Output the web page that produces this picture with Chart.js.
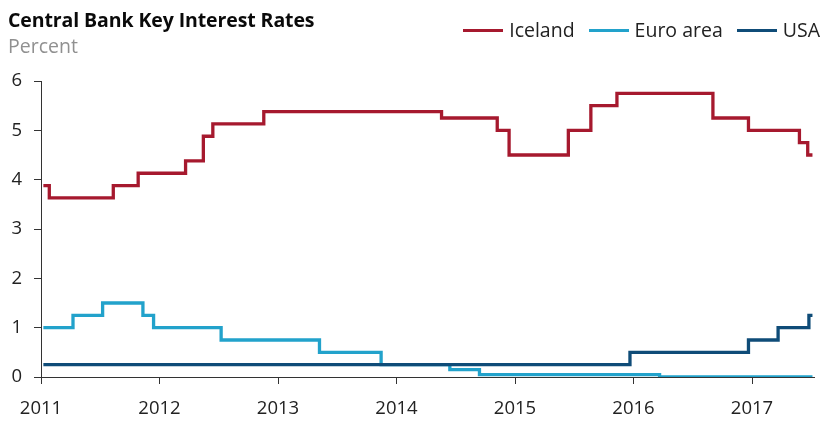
<!DOCTYPE html>
<html>
<head>
<meta charset="utf-8">
<script src="https://cdn.jsdelivr.net/npm/chart.js@4.4.0/dist/chart.umd.min.js"></script>
<style>
  html, body { margin: 0; padding: 0; background: #ffffff; }
  #wrap { position: relative; width: 822px; height: 422px; overflow: hidden; }
  canvas { position: absolute; left: 0; top: 0; }
  #title { position: absolute; left: 8px; top: 6px; font: bold 19.5px "Open Sans", sans-serif; color: #0a0a0a; white-space: nowrap; line-height: normal; letter-spacing: -0.1px; }
  #sub { position: absolute; left: 8px; top: 32px; font: 19.5px "Open Sans", sans-serif; color: #909090; white-space: nowrap; line-height: normal; }
  #legend { position: absolute; right: 2px; top: 16px; display: flex; align-items: center; font: 19.5px "Open Sans", sans-serif; color: #222; white-space: nowrap; line-height: normal; }
  .item { display: flex; align-items: center; margin-left: 14px; }
  .sw { width: 40px; height: 3px; margin-right: 6px; margin-top: 1px; }
</style>
</head>
<body>
<div id="wrap">
  <canvas id="c" width="822" height="422"></canvas>
  <div id="title">Central Bank Key Interest Rates</div>
  <div id="sub">Percent</div>
  <div id="legend"></div>
</div>
<script>
// ---- data (decimal year of each rate change, rate in percent) ----
const seriesNames = ["Iceland", "Euro area", "USA"];
const seriesColors = ["#a6192e", "#22a2cb", "#0f4c78"];

const icelandDates = [2011.02, 2011.07, 2011.61, 2011.82, 2012.22, 2012.37, 2012.45, 2012.88, 2014.38, 2014.85, 2014.95, 2015.45, 2015.64, 2015.86, 2016.67, 2016.97, 2017.40, 2017.47, 2017.51];
const icelandRates = [3.88, 3.63, 3.88, 4.13, 4.38, 4.88, 5.13, 5.38, 5.25, 5.00, 4.50, 5.00, 5.50, 5.75, 5.25, 5.00, 4.75, 4.50, 4.50];

const euroDates = [2011.02, 2011.27, 2011.52, 2011.86, 2011.95, 2012.52, 2013.35, 2013.87, 2014.45, 2014.70, 2016.22, 2017.51];
const euroRates = [1.00, 1.25, 1.50, 1.25, 1.00, 0.75, 0.50, 0.25, 0.15, 0.05, 0.00, 0.00];

const usaDates = [2011.02, 2015.97, 2016.97, 2017.22, 2017.48, 2017.51];
const usaRates = [0.25, 0.50, 0.75, 1.00, 1.25, 1.25];

const xTickYears = [2011, 2012, 2013, 2014, 2015, 2016, 2017];
const yTickValues = [0, 1, 2, 3, 4, 5, 6];

// ---- build ----
function pts(d, v) { return d.map((x, i) => ({ x: x, y: v[i] })); }
const seriesData = [pts(icelandDates, icelandRates), pts(euroDates, euroRates), pts(usaDates, usaRates)];

const legend = document.getElementById('legend');
seriesNames.forEach((n, i) => {
  const it = document.createElement('div'); it.className = 'item';
  const sw = document.createElement('div'); sw.className = 'sw'; sw.style.background = seriesColors[i];
  const tx = document.createElement('span'); tx.textContent = n;
  it.appendChild(sw); it.appendChild(tx); legend.appendChild(it);
});

const tickFont = { family: "'Open Sans', sans-serif", size: 18.5 };
const axisColor = '#333333';

new Chart(document.getElementById('c'), {
  type: 'line',
  data: {
    datasets: seriesNames.map((n, i) => ({
      label: n,
      data: seriesData[i],
      borderColor: seriesColors[i],
      backgroundColor: seriesColors[i],
      borderWidth: 3.3,
      pointRadius: 0,
      stepped: 'before',
      fill: false,
      order: 3 - i
    }))
  },
  options: {
    responsive: false,
    devicePixelRatio: 1,
    animation: false,
    layout: { padding: { top: 81, right: 8, left: 0, bottom: 0 } },
    plugins: { legend: { display: false }, tooltip: { enabled: false } },
    scales: {
      x: {
        type: 'linear',
        min: 2011,
        max: 2017.523,
        afterBuildTicks: s => { s.ticks = xTickYears.map(v => ({ value: v })); },
        afterFit: s => { s.height = 45; },
        ticks: { font: tickFont, color: '#222', padding: 14, maxRotation: 0, autoSkip: false, callback: v => String(v) },
        grid: { drawOnChartArea: false, drawTicks: true, tickLength: 7, color: axisColor, lineWidth: 1 },
        border: { display: true, color: axisColor, width: 1 }
      },
      y: {
        min: 0,
        max: 6,
        afterBuildTicks: s => { s.ticks = yTickValues.map(v => ({ value: v })); },
        afterFit: s => { s.width = 41; },
        ticks: { font: tickFont, color: '#222', padding: 12, callback: v => String(v) },
        grid: { drawOnChartArea: false, drawTicks: true, tickLength: 7, color: axisColor, lineWidth: 1 },
        border: { display: true, color: axisColor, width: 1 }
      }
    }
  }
});
</script>
</body>
</html>
